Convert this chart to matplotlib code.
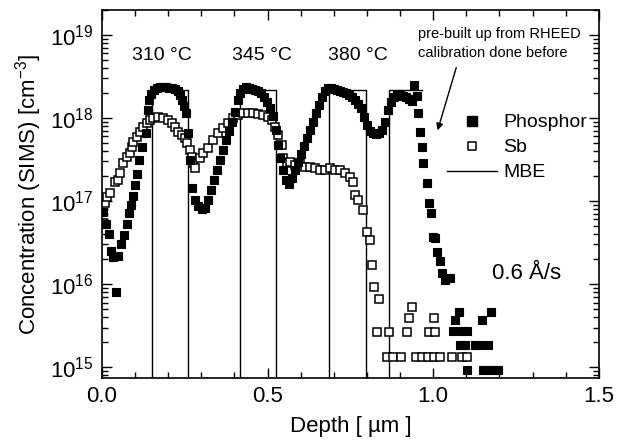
import matplotlib
matplotlib.use('Agg')
import matplotlib.pyplot as plt
from matplotlib.ticker import MultipleLocator, LogLocator, NullFormatter, FormatStrFormatter
from matplotlib.lines import Line2D

plt.rcParams['font.family'] = ['Liberation Sans', 'DejaVu Sans']
plt.rcParams['mathtext.fontset'] = 'custom'
plt.rcParams['mathtext.rm'] = 'Liberation Sans'
plt.rcParams['mathtext.it'] = 'Liberation Sans:italic'

# SIMS profile, phosphor (filled squares)
phos_depth = [0.003, 0.012, 0.021, 0.027, 0.033, 0.042, 0.048, 0.057, 0.066, 0.075,
              0.081, 0.088, 0.094, 0.100, 0.106, 0.112, 0.121, 0.133, 0.139, 0.142,
              0.148, 0.157, 0.166, 0.175, 0.184, 0.193, 0.202, 0.211, 0.220, 0.229,
              0.235, 0.241, 0.247, 0.254, 0.260, 0.266, 0.272, 0.281, 0.290, 0.302,
              0.311, 0.320, 0.329, 0.338, 0.347, 0.356, 0.365, 0.374, 0.383, 0.392,
              0.401, 0.410, 0.416, 0.426, 0.435, 0.444, 0.453, 0.462, 0.471, 0.480,
              0.489, 0.498, 0.507, 0.516, 0.525, 0.531, 0.537, 0.546, 0.555, 0.564,
              0.573, 0.582, 0.592, 0.601, 0.610, 0.619, 0.628, 0.637, 0.646, 0.655,
              0.664, 0.673, 0.682, 0.691, 0.700, 0.709, 0.718, 0.727, 0.736, 0.745,
              0.755, 0.764, 0.773, 0.782, 0.791, 0.800, 0.809, 0.818, 0.827, 0.836,
              0.845, 0.854, 0.863, 0.872, 0.881, 0.890, 0.899, 0.908, 0.917, 0.927,
              0.936, 0.942, 0.950, 0.954, 0.960, 0.966, 0.969, 0.981, 0.987, 0.993,
              0.999, 1.005, 1.011, 1.020, 1.026, 1.035, 1.050, 1.059, 1.065, 1.077,
              1.086, 1.102, 1.080, 1.096, 1.126, 1.141, 1.165, 1.147, 1.174, 1.102,
              1.150, 1.165, 1.180, 1.195]
phos_conc = [7.4e16, 5.3e16, 4.0e16, 2.5e16, 2.1e16, 8.0e15, 2.2e16, 3.0e16, 3.9e16, 5.3e16,
             7.2e16, 9.0e16, 1.15e17, 1.56e17, 2.1e17, 3.1e17, 4.5e17, 6.6e17, 1.25e18, 1.65e18,
             1.95e18, 2.17e18, 2.3e18, 2.36e18, 2.36e18, 2.36e18, 2.3e18, 2.3e18, 2.23e18, 2.11e18,
             1.89e18, 1.65e18, 1.4e18, 1.15e18, 6.6e17, 3.1e17, 1.43e17, 1.03e17, 8.7e16, 8.0e16,
             8.2e16, 1.03e17, 1.36e17, 1.79e17, 2.36e17, 3.1e17, 4.1e17, 5.4e17, 7.0e17, 8.95e17,
             1.18e18, 1.65e18, 2.0e18, 2.23e18, 2.36e18, 2.3e18, 2.23e18, 2.17e18, 2.11e18, 2.0e18,
             1.79e18, 1.56e18, 1.32e18, 1.06e18, 7.2e17, 4.7e17, 3.3e17, 2.36e17, 1.79e17, 1.6e17,
             1.89e17, 2.36e17, 2.95e17, 3.7e17, 4.6e17, 5.7e17, 7.2e17, 8.95e17, 1.15e18, 1.43e18,
             1.79e18, 2.11e18, 2.3e18, 2.3e18, 2.23e18, 2.17e18, 2.11e18, 2.06e18, 2.0e18, 1.89e18,
             1.79e18, 1.65e18, 1.47e18, 1.32e18, 1.03e18, 8.2e17, 7.0e17, 6.6e17, 6.4e17, 6.6e17,
             7.2e17, 8.95e17, 1.25e18, 1.56e18, 1.79e18, 1.89e18, 1.89e18, 1.84e18, 1.79e18, 1.69e18,
             1.6e18, 2.5e18, 1.84e18, 1.15e18, 6.8e17, 4.5e17, 2.9e17, 1.65e17, 9.5e16, 7.2e16,
             3.7e16, 3.6e16, 2.43e16, 1.89e16, 1.36e16, 1.12e16, 1.18e16, 2.7e15, 3.7e15, 4.6e15,
             2.7e15, 2.7e15, 1.84e15, 1.84e15, 1.84e15, 1.84e15, 1.84e15, 3.7e15, 4.6e15, 9.2e14,
             9.2e14, 9.2e14, 9.2e14, 9.2e14]

# SIMS profile, antimony (open squares)
sb_depth = [0.003, 0.009, 0.015, 0.024, 0.039, 0.048, 0.054, 0.063, 0.075, 0.085,
            0.091, 0.094, 0.106, 0.115, 0.124, 0.136, 0.145, 0.154, 0.169, 0.184,
            0.199, 0.211, 0.220, 0.229, 0.241, 0.250, 0.257, 0.266, 0.272, 0.275,
            0.281, 0.296, 0.305, 0.320, 0.335, 0.350, 0.365, 0.380, 0.395, 0.410,
            0.426, 0.441, 0.456, 0.471, 0.486, 0.501, 0.513, 0.522, 0.531, 0.543,
            0.546, 0.558, 0.567, 0.582, 0.598, 0.613, 0.628, 0.643, 0.658, 0.673,
            0.688, 0.703, 0.718, 0.733, 0.748, 0.758, 0.764, 0.773, 0.788, 0.800,
            0.809, 0.815, 0.821, 0.836, 0.830, 0.866, 0.920, 0.987, 1.005, 0.927,
            0.936, 1.002, 0.860, 0.878, 0.902, 0.948, 0.966, 0.984, 1.002, 1.020,
            1.056, 1.086, 1.102]
sb_conc = [5.4e16, 9.5e16, 1.12e17, 1.25e17, 1.69e17, 1.79e17, 2.17e17, 2.9e17, 3.4e17, 3.8e17,
           4.5e17, 5.1e17, 5.9e17, 6.8e17, 7.8e17, 8.7e17, 9.5e17, 1.0e18, 1.03e18, 1.0e18,
           9.5e17, 8.7e17, 7.8e17, 6.8e17, 6.2e17, 5.7e17, 5.0e17, 4.1e17, 3.4e17, 2.9e17,
           2.5e17, 3.3e17, 3.8e17, 4.4e17, 5.4e17, 6.6e17, 7.6e17, 8.7e17, 1.0e18, 1.09e18,
           1.15e18, 1.15e18, 1.15e18, 1.12e18, 1.09e18, 1.03e18, 9.5e17, 7.8e17, 6.2e17, 4.7e17,
           3.3e17, 2.9e17, 2.95e17, 2.7e17, 2.9e17, 2.6e17, 2.6e17, 2.5e17, 2.36e17, 2.36e17,
           2.5e17, 2.36e17, 2.36e17, 2.17e17, 1.95e17, 1.69e17, 1.18e17, 1.03e17, 7.8e16, 4.2e16,
           3.4e16, 1.69e16, 9.2e15, 6.6e15, 2.64e15, 2.64e15, 2.64e15, 2.64e15, 2.64e15, 3.9e15,
           5.3e15, 3.9e15, 1.32e15, 1.32e15, 1.32e15, 1.32e15, 1.32e15, 1.32e15, 1.32e15, 1.32e15,
           1.32e15, 1.32e15, 1.32e15]

# nominal MBE doping layers: (start, end) in um, plateau level in cm^-3
mbe_layers = [(0.150, 0.260), (0.418, 0.527), (0.686, 0.796), (0.867, 0.965)]
mbe_level = 2.2e18
mbe_floor = 1e14

temps = ['310 °C', '345 °C', '380 °C']
temp_x = [0.181, 0.483, 0.773]

mbe_x, mbe_y = [], []
for i, (a, b) in enumerate(mbe_layers):
    mbe_x += [a, a, b]
    mbe_y += [mbe_floor, mbe_level, mbe_level]
    if i < len(mbe_layers) - 1:
        mbe_x.append(b)
        mbe_y.append(mbe_floor)

fig = plt.figure(figsize=(6.29, 4.45), dpi=100)
ax = fig.add_axes([0.162, 0.1506, 0.790, 0.8269])

ax.plot(mbe_x, mbe_y, color='black', lw=1.0)
ax.plot(sb_depth, sb_conc, ls='none', marker='s', ms=5.6, mfc='white', mec='black', mew=1.1)
ax.plot(phos_depth, phos_conc, ls='none', marker='s', ms=5.6, mfc='black', mec='black', mew=0.8)

ax.set_yscale('log')
ax.set_xlim(0, 1.5)
ax.set_ylim(7.4e14, 2.0e19)

ax.xaxis.set_major_locator(MultipleLocator(0.5))
ax.xaxis.set_minor_locator(MultipleLocator(0.1))
ax.xaxis.set_major_formatter(FormatStrFormatter('%.1f'))
ax.yaxis.set_major_locator(LogLocator(base=10, numticks=10))
ax.yaxis.set_minor_locator(LogLocator(base=10, subs=range(2, 10), numticks=20))
ax.yaxis.set_minor_formatter(NullFormatter())
ax.tick_params(which='both', direction='in', top=True, right=True, width=1.0, labelsize=16)
ax.tick_params(which='major', length=7, pad=6)
ax.tick_params(which='minor', length=4)
for s in ax.spines.values():
    s.set_linewidth(1.2)

ax.set_xlabel('Depth [ µm ]', fontsize=16, labelpad=6)
ax.set_ylabel('Concentration (SIMS) [cm$^{-3}$]', fontsize=16, labelpad=4)

for t, x in zip(temps, temp_x):
    ax.text(x, 5.7e18, t, ha='center', va='center', fontsize=14)

ax.text(0.954, 7.8e18, 'pre-built up from RHEED\ncalibration done before',
        ha='left', va='center', fontsize=10.5, linespacing=1.45)
ax.annotate('', xy=(1.011, 6.6e17), xytext=(1.072, 4.35e18),
            arrowprops=dict(arrowstyle='-|>', color='black', lw=1.0, mutation_scale=10))
ax.text(1.177, 1.36e16, '0.6 Å/s', ha='left', va='center', fontsize=16)

handles = [Line2D([], [], ls='none', marker='s', ms=6.5, mfc='black', mec='black'),
           Line2D([], [], ls='none', marker='s', ms=5.5, mfc='white', mec='black', mew=1.1),
           Line2D([], [], color='black', lw=1.0)]
ax.legend(handles, ['Phosphor', 'Sb', 'MBE'], loc='center left', bbox_to_anchor=(0.694, 0.626),
          frameon=False, fontsize=14, handlelength=2.6, handletextpad=0.3,
          labelspacing=0.38, borderpad=0, borderaxespad=0)

fig.savefig('out.png', dpi=100)
